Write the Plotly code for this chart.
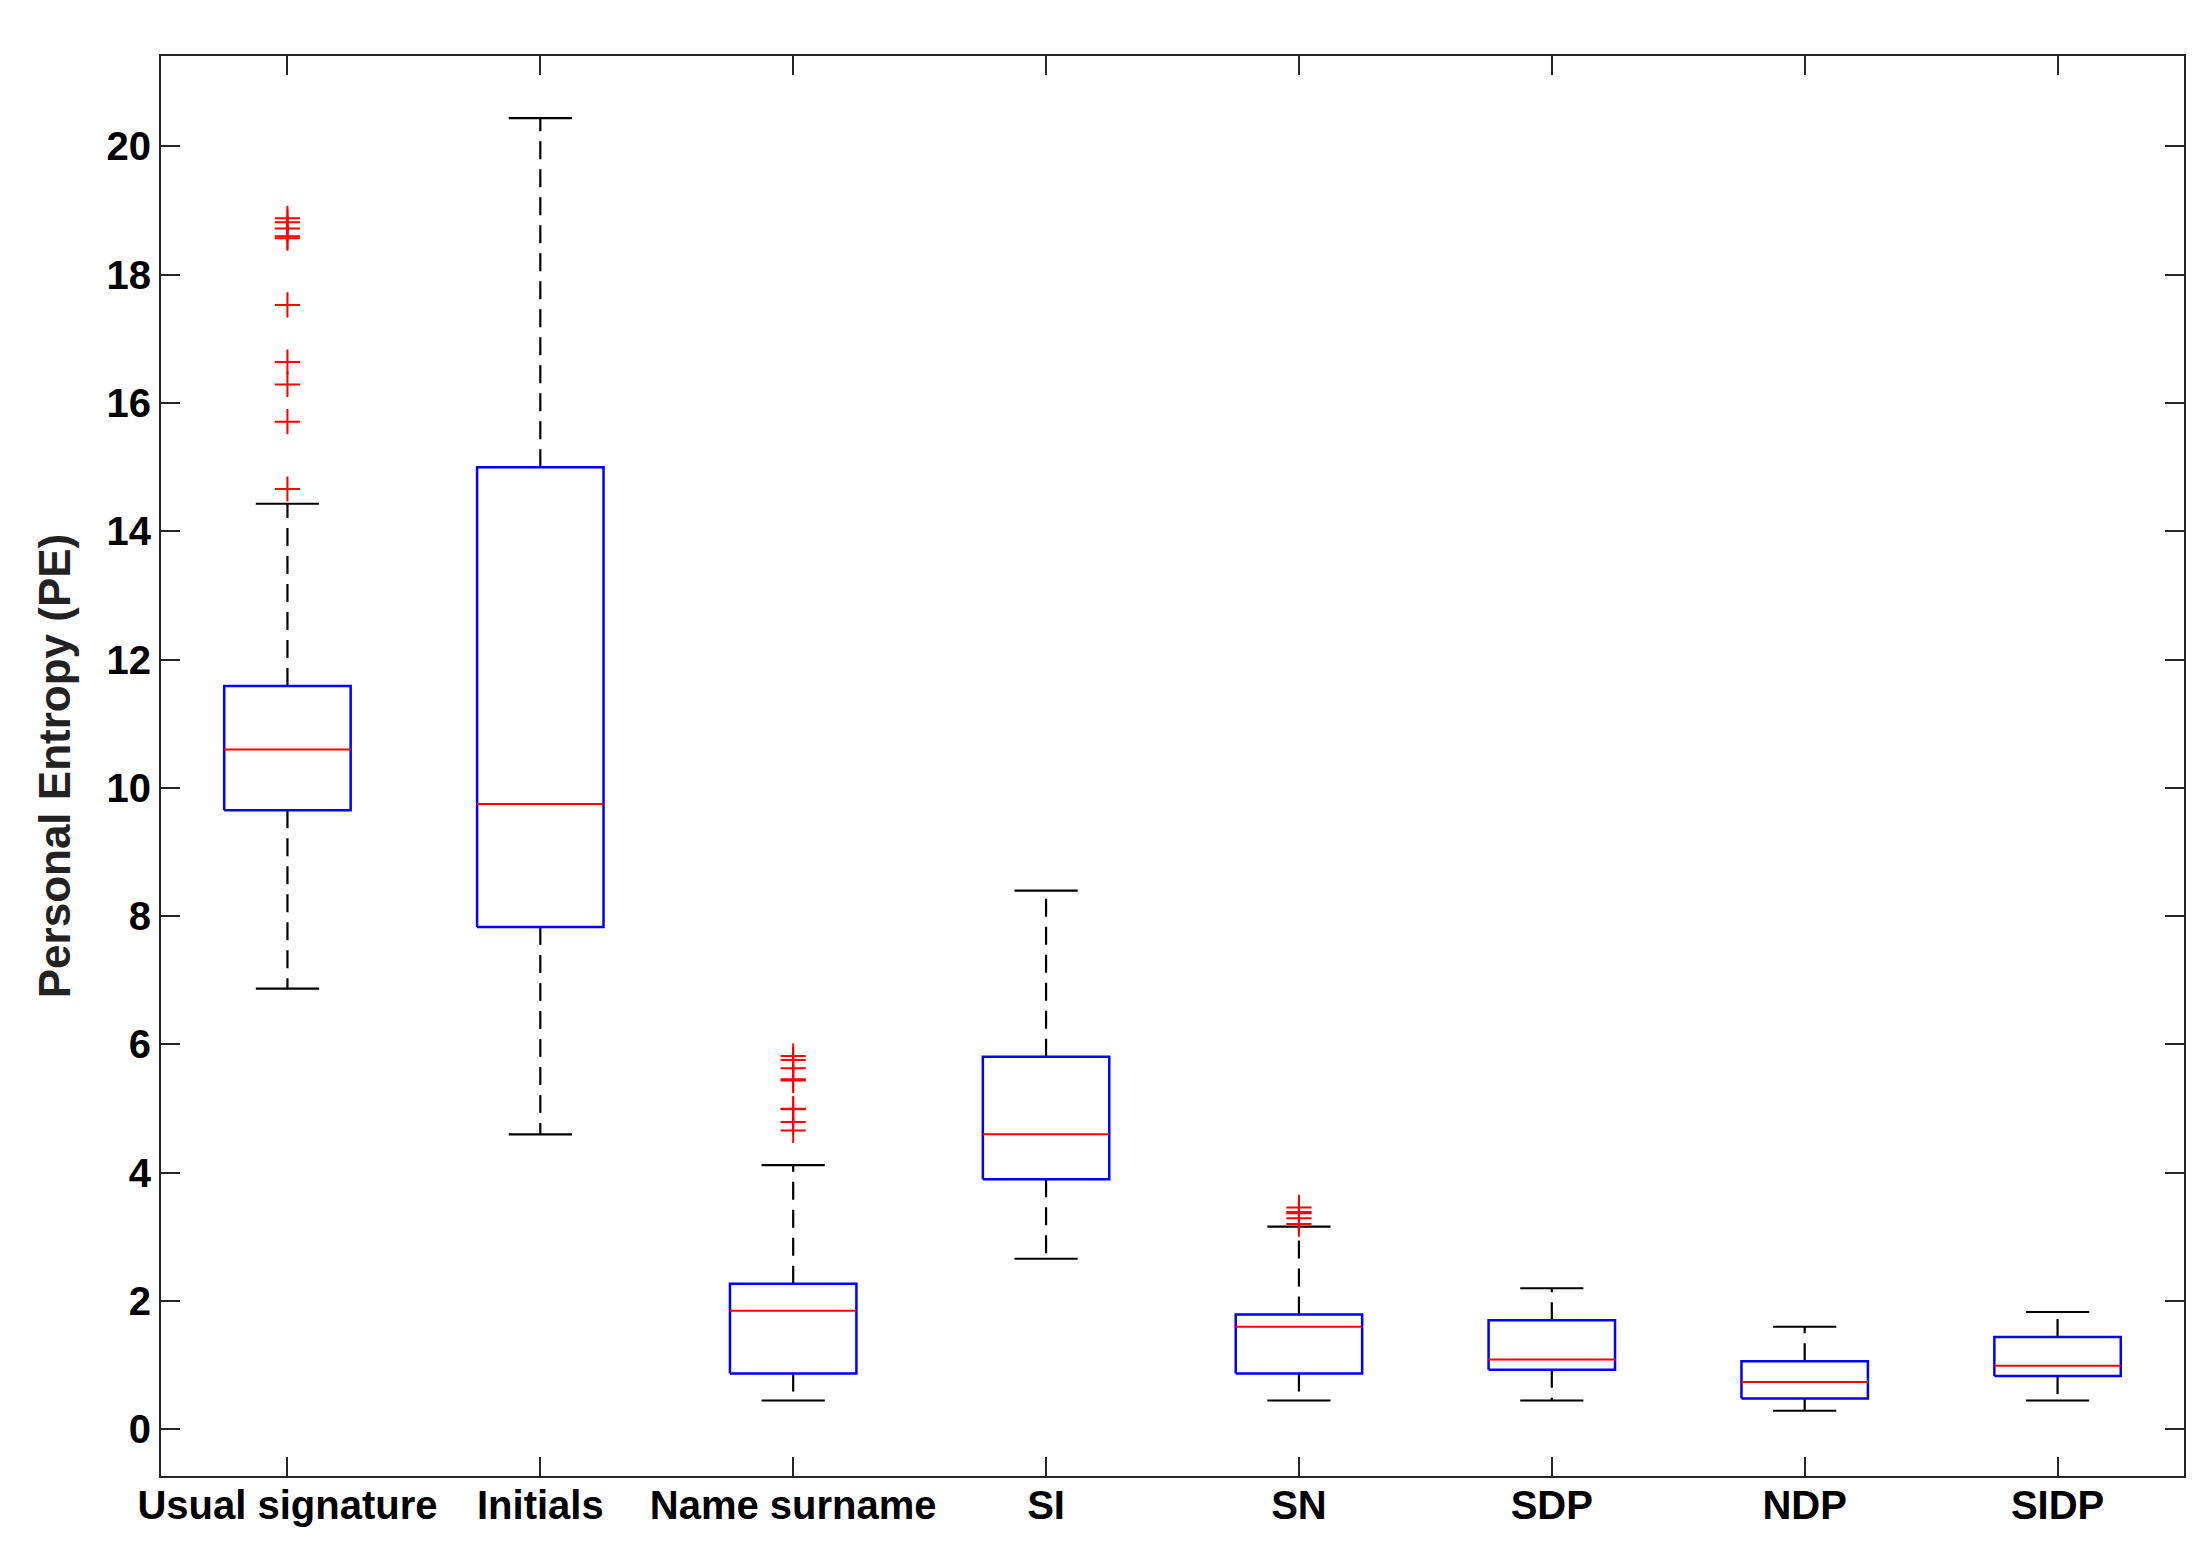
import plotly.graph_objects as go

# box statistics
categories = ["Usual signature", "Initials", "Name surname", "SI", "SN", "SDP", "NDP", "SIDP"]
q1 = [9.65, 7.83, 0.87, 3.90, 0.87, 0.93, 0.48, 0.83]
median = [10.60, 9.75, 1.85, 4.60, 1.60, 1.09, 0.74, 0.99]
q3 = [11.59, 15.00, 2.27, 5.81, 1.79, 1.70, 1.06, 1.44]
lower_whisker = [6.87, 4.60, 0.45, 2.66, 0.45, 0.45, 0.29, 0.45]
upper_whisker = [14.43, 20.44, 4.12, 8.40, 3.16, 2.20, 1.60, 1.83]

# outliers per group
outliers_usual = [14.66, 15.71, 16.29, 16.64, 17.53, 18.57, 18.60, 18.72, 18.82, 18.88]
outliers_name = [4.66, 4.79, 4.99, 5.00, 5.44, 5.46, 5.63, 5.76, 5.82]
outliers_sn = [3.20, 3.29, 3.37, 3.39, 3.46]
outliers = {"Usual signature": outliers_usual, "Name surname": outliers_name, "SN": outliers_sn}

BOX_HALF = 0.25
CAP_HALF = 0.125
AXIS_COLOR = "#262626"
FONT = "Liberation Sans"

pos = list(range(1, len(categories) + 1))

box_x, box_y = [], []
med_x, med_y = [], []
wh_x, wh_y = [], []
cap_x, cap_y = [], []
for i, p in enumerate(pos):
    l, r = p - BOX_HALF, p + BOX_HALF
    box_x += [l, r, r, l, l, None]
    box_y += [q1[i], q1[i], q3[i], q3[i], q1[i], None]
    med_x += [l, r, None]
    med_y += [median[i], median[i], None]
    wh_x += [p, p, None, p, p, None]
    wh_y += [q3[i], upper_whisker[i], None, q1[i], lower_whisker[i], None]
    cap_x += [p - CAP_HALF, p + CAP_HALF, None, p - CAP_HALF, p + CAP_HALF, None]
    cap_y += [upper_whisker[i], upper_whisker[i], None, lower_whisker[i], lower_whisker[i], None]

out_x, out_y = [], []
for name, vals in outliers.items():
    p = pos[categories.index(name)]
    out_x += [p] * len(vals)
    out_y += vals

fig = go.Figure()
fig.add_trace(go.Scatter(x=wh_x, y=wh_y, mode="lines",
                         line=dict(color="black", width=2.2, dash="18px,10px")))
fig.add_trace(go.Scatter(x=cap_x, y=cap_y, mode="lines",
                         line=dict(color="black", width=2.2)))
fig.add_trace(go.Scatter(x=box_x, y=box_y, mode="lines",
                         line=dict(color="#0000ff", width=2.5)))
fig.add_trace(go.Scatter(x=med_x, y=med_y, mode="lines",
                         line=dict(color="#ff0000", width=2)))
fig.add_trace(go.Scatter(x=out_x, y=out_y, mode="markers",
                         marker=dict(symbol="cross-thin-open", size=18, color="#ff0000",
                                     line=dict(color="#ff0000", width=2))))

axis_common = dict(
    showline=True, linecolor=AXIS_COLOR, linewidth=2, mirror="ticks",
    ticks="inside", ticklen=19, tickwidth=2, tickcolor=AXIS_COLOR,
    showgrid=False, zeroline=False,
    tickfont=dict(family=FONT, size=40, color="black", weight="bold"),
)

fig.update_xaxes(range=[0.5, 8.5], tickvals=pos, ticktext=categories,
                 ticklabelstandoff=-7, **axis_common)
fig.update_yaxes(range=[-0.727, 21.41], tickvals=list(range(0, 21, 2)),
                 title=dict(text="Personal Entropy (PE)", standoff=22,
                            font=dict(family=FONT, size=44, color="#222222", weight="bold")),
                 **axis_common)

fig.update_layout(
    width=2212, height=1552,
    margin=dict(l=153, r=36, t=48, b=84),
    paper_bgcolor="white", plot_bgcolor="white",
    showlegend=False,
)

fig.write_html("out.html")
